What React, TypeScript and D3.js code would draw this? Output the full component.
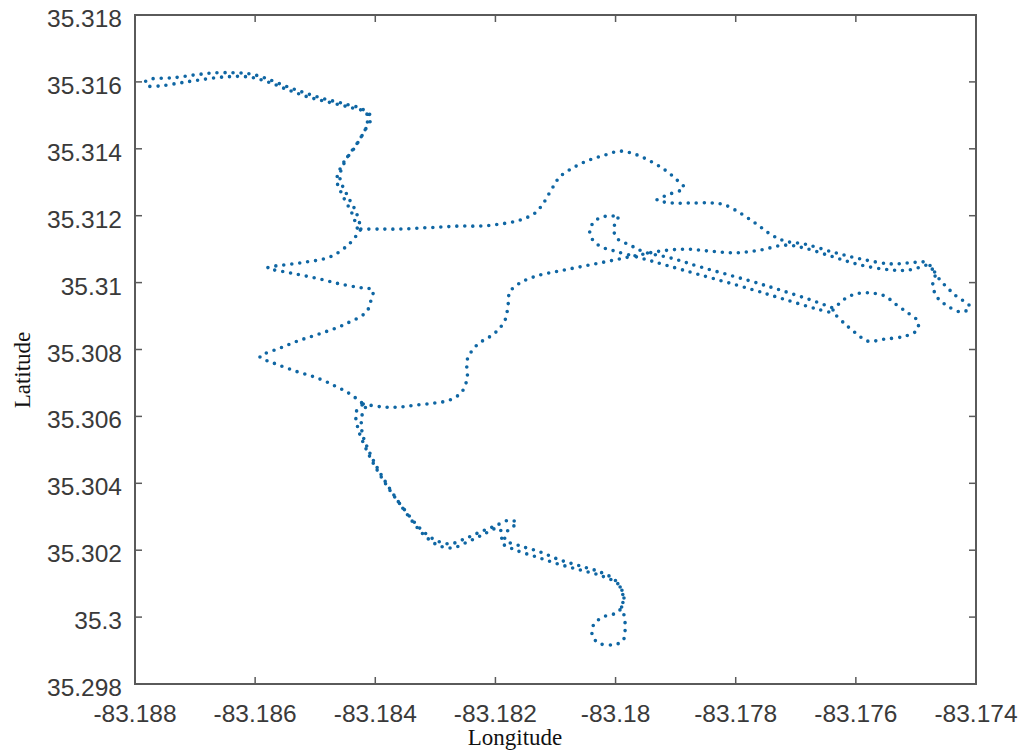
import React from "react";
import * as d3 from "d3";

// ---- axes ----
const xTicks = [-83.188, -83.186, -83.184, -83.182, -83.18, -83.178, -83.176, -83.174];
const xTickLabels = ["-83.188", "-83.186", "-83.184", "-83.182", "-83.18", "-83.178", "-83.176", "-83.174"];
const yTicks = [35.298, 35.3, 35.302, 35.304, 35.306, 35.308, 35.31, 35.312, 35.314, 35.316, 35.318];
const yTickLabels = ["35.298", "35.3", "35.302", "35.304", "35.306", "35.308", "35.31", "35.312", "35.314", "35.316", "35.318"];
const xLabel = "Longitude";
const yLabel = "Latitude";

// ---- GPS track segments: [longitude, latitude] ----
const topLoop: [number, number][] = [
  [-83.1843, 35.31163], [-83.18439, 35.31208], [-83.18454, 35.31259], [-83.18464, 35.31307],
  [-83.18455, 35.31352], [-83.18435, 35.31402], [-83.18417, 35.31456], [-83.18407, 35.31495],
  [-83.18422, 35.31519], [-83.1845, 35.31534], [-83.18484, 35.31549], [-83.18517, 35.31567],
  [-83.1855, 35.31588], [-83.18584, 35.31612], [-83.18609, 35.31624], [-83.18634, 35.31627],
  [-83.18667, 35.31627], [-83.187, 35.31621], [-83.18738, 35.31612], [-83.18772, 35.31609],
  [-83.18783, 35.316], [-83.18778, 35.31588], [-83.18758, 35.31588], [-83.18725, 35.31597],
  [-83.18692, 35.31606], [-83.1865, 35.31615], [-83.18612, 35.31615], [-83.18579, 35.316],
  [-83.18545, 35.31576], [-83.18512, 35.31555], [-83.18479, 35.3154], [-83.18445, 35.31525],
  [-83.18415, 35.31507], [-83.18414, 35.31471], [-83.18429, 35.3142], [-83.18449, 35.31367],
  [-83.18459, 35.31316], [-83.18447, 35.31262], [-83.18432, 35.31211], [-83.18424, 35.31163],
];

const zigzag: [number, number][] = [
  [-83.18425, 35.31157], [-83.18442, 35.31118], [-83.18475, 35.31077], [-83.18525, 35.31059],
  [-83.18579, 35.31044], [-83.18542, 35.31029], [-83.185, 35.31014], [-83.18459, 35.30996],
  [-83.18422, 35.30984], [-83.18404, 35.30978], [-83.18407, 35.30948], [-83.18415, 35.30912],
  [-83.1845, 35.30876], [-83.18489, 35.30849], [-83.18525, 35.30828], [-83.18559, 35.30804],
  [-83.18592, 35.30778], [-83.1857, 35.3076], [-83.18534, 35.30736], [-83.18497, 35.30715],
  [-83.18467, 35.30691], [-83.18442, 35.30667], [-83.1842, 35.30637],
];

const middleRoute: [number, number][] = [
  [-83.1842, 35.30637], [-83.18387, 35.30628], [-83.18359, 35.30628], [-83.18331, 35.30634],
  [-83.18301, 35.3064], [-83.18276, 35.30649], [-83.18256, 35.30673], [-83.18247, 35.30715],
  [-83.18247, 35.30769], [-83.18231, 35.30813], [-83.18201, 35.30849], [-83.18184, 35.30888],
  [-83.18179, 35.30933], [-83.18176, 35.30972], [-83.18159, 35.30999], [-83.18131, 35.3102],
  [-83.18093, 35.31035], [-83.18051, 35.3105], [-83.18009, 35.31065], [-83.17968, 35.3108],
  [-83.17926, 35.31094], [-83.17884, 35.311], [-83.17843, 35.31094], [-83.17801, 35.31089],
  [-83.1776, 35.31097], [-83.17718, 35.31112], [-83.17685, 35.31103], [-83.17638, 35.31077],
  [-83.17593, 35.31053], [-83.17543, 35.31038], [-83.1751, 35.31038], [-83.17482, 35.31053],
];

const upperRoute: [number, number][] = [
  [-83.18424, 35.3116], [-83.18392, 35.3116], [-83.18359, 35.3116], [-83.18326, 35.31163],
  [-83.18292, 35.31166], [-83.18259, 35.31169], [-83.18226, 35.31169], [-83.18192, 35.31175],
  [-83.18159, 35.31187], [-83.18134, 35.31208], [-83.18121, 35.31235], [-83.18111, 35.31265],
  [-83.18101, 35.31295], [-83.18093, 35.31316], [-83.18068, 35.31346], [-83.18043, 35.31367],
  [-83.18018, 35.31381], [-83.17993, 35.31393], [-83.17968, 35.31384], [-83.17943, 35.31364],
  [-83.17918, 35.31337], [-83.17898, 35.31307], [-83.17886, 35.31283], [-83.17909, 35.31265],
  [-83.17931, 35.31247], [-83.17906, 35.31238], [-83.17873, 35.31238], [-83.17839, 35.31238],
  [-83.17818, 35.31232], [-83.1779, 35.31205], [-83.17763, 35.31172], [-83.1774, 35.31142],
  [-83.17718, 35.31124], [-83.17685, 35.31115], [-83.17638, 35.31091], [-83.17593, 35.31071],
  [-83.17543, 35.31056], [-83.1751, 35.31059], [-83.17482, 35.31059], [-83.1746, 35.31008],
  [-83.17435, 35.30963], [-83.1741, 35.30927], [-83.17423, 35.30912], [-83.1745, 35.30933],
  [-83.17465, 35.30957], [-83.17472, 35.30993], [-83.17468, 35.31029], [-83.17482, 35.31053],
];

const hookOuter: [number, number][] = [
  [-83.18004, 35.31199], [-83.18023, 35.31196], [-83.18036, 35.31181], [-83.18043, 35.31157],
  [-83.18039, 35.3113], [-83.18026, 35.31109], [-83.18001, 35.31094], [-83.17959, 35.31074],
  [-83.17918, 35.31053], [-83.17859, 35.31023], [-83.17776, 35.30981], [-83.17721, 35.30951],
  [-83.17665, 35.30921], [-83.17638, 35.30909],
];

const hookInner: [number, number][] = [
  [-83.17996, 35.31193], [-83.18003, 35.31163], [-83.17998, 35.31133], [-83.17976, 35.31112],
  [-83.17951, 35.31091], [-83.17909, 35.31074], [-83.17859, 35.31047], [-83.17776, 35.31005],
  [-83.17721, 35.30975], [-83.17665, 35.30942], [-83.17638, 35.30924],
];

const diamondLoop: [number, number][] = [
  [-83.17638, 35.30918], [-83.17621, 35.30948], [-83.17601, 35.30966], [-83.17576, 35.30969],
  [-83.17552, 35.3096], [-83.17532, 35.30933], [-83.17513, 35.30909], [-83.17497, 35.30885],
  [-83.17498, 35.30858], [-83.17518, 35.3084], [-83.17552, 35.30831], [-83.1758, 35.30825],
  [-83.17598, 35.30846], [-83.17618, 35.30876], [-83.17635, 35.30906],
];

const southOut: [number, number][] = [
  [-83.18422, 35.30634], [-83.18432, 35.30613], [-83.18429, 35.30565], [-83.18417, 35.30509],
  [-83.18399, 35.30446], [-83.18376, 35.3038], [-83.18351, 35.3032], [-83.18326, 35.30266],
  [-83.18301, 35.30231], [-83.18276, 35.30219], [-83.18251, 35.30234], [-83.18226, 35.30254],
  [-83.18201, 35.30272], [-83.18176, 35.3029], [-83.18164, 35.30281], [-83.18179, 35.3026],
  [-83.18184, 35.30231], [-83.18159, 35.30213], [-83.18126, 35.30195], [-83.18093, 35.30171],
  [-83.18059, 35.30153], [-83.18026, 35.30135], [-83.18001, 35.30111], [-83.17989, 35.30075],
  [-83.17988, 35.30042], [-83.17996, 35.30015], [-83.18021, 35.3], [-83.18036, 35.29979],
  [-83.18039, 35.29947], [-83.18029, 35.29923], [-83.18006, 35.29917], [-83.17988, 35.29929],
  [-83.17984, 35.29967], [-83.17986, 35.30006], [-83.17991, 35.30036],
];

const southBack: [number, number][] = [
  [-83.17986, 35.30057], [-83.17994, 35.30096], [-83.18023, 35.30123], [-83.18059, 35.30141],
  [-83.18096, 35.30159], [-83.18132, 35.3018], [-83.18167, 35.30201], [-83.18189, 35.30222],
  [-83.18189, 35.30251], [-83.18196, 35.30266], [-83.18221, 35.30246], [-83.18246, 35.30225],
  [-83.18272, 35.30207], [-83.18297, 35.30216], [-83.18322, 35.30251], [-83.18346, 35.30305],
  [-83.18369, 35.30365], [-83.18392, 35.30431], [-83.1841, 35.30494], [-83.18422, 35.30553],
  [-83.18422, 35.30604], [-83.18414, 35.30634],
];

const segments = [topLoop, zigzag, middleRoute, upperRoute, hookOuter, hookInner, diamondLoop, southOut, southBack];

const W = 1027;
const H = 752;
const L = 135, R = 976, T = 15, B = 684;
const axisColor = "#5a5a5a";
const textColor = "#3a3a3a";
const dotColor = "#0f66a3";

export default function App() {
  const x = d3.scaleLinear().domain([-83.188, -83.174]).range([L, R]);
  const y = d3.scaleLinear().domain([35.298, 35.318]).range([B, T]);
  const line = d3
    .line<[number, number]>()
    .x((d) => x(d[0]))
    .y((d) => y(d[1]))
    .curve(d3.curveCatmullRom.alpha(0.5));
  const tickLen = 7;

  return (
    <svg
      width={W}
      height={H}
      viewBox={`0 0 ${W} ${H}`}
      style={{ position: "absolute", left: 0, top: 0, background: "#fff" }}
    >
      <rect x={0} y={0} width={W} height={H} fill="#fff" />
      {/* track */}
      <g fill="none" stroke={dotColor} strokeWidth={3.6} strokeLinecap="round" strokeDasharray="0 8">
        {segments.map((s, i) => (
          <path key={i} d={line(s) || ""} />
        ))}
      </g>
      {/* box */}
      <rect x={L} y={T} width={R - L} height={B - T} fill="none" stroke={axisColor} strokeWidth={2} />
      {/* x ticks */}
      {xTicks.map((t, i) => (
        <g key={"x" + i}>
          <line x1={x(t)} x2={x(t)} y1={B} y2={B - tickLen} stroke={axisColor} strokeWidth={1.5} />
          <line x1={x(t)} x2={x(t)} y1={T} y2={T + tickLen} stroke={axisColor} strokeWidth={1.5} />
          <text
            x={x(t)}
            y={B + 38}
            textAnchor="middle"
            fontFamily="'Liberation Sans', Arial, sans-serif"
            fontSize={24.5}
            fill={textColor}
          >
            {xTickLabels[i]}
          </text>
        </g>
      ))}
      {/* y ticks */}
      {yTicks.map((t, i) => (
        <g key={"y" + i}>
          <line x1={L} x2={L + tickLen} y1={y(t)} y2={y(t)} stroke={axisColor} strokeWidth={1.5} />
          <line x1={R} x2={R - tickLen} y1={y(t)} y2={y(t)} stroke={axisColor} strokeWidth={1.5} />
          <text
            x={L - 13}
            y={y(t) + 12}
            textAnchor="end"
            fontFamily="'Liberation Sans', Arial, sans-serif"
            fontSize={24.5}
            fill={textColor}
          >
            {yTickLabels[i]}
          </text>
        </g>
      ))}
      {/* axis labels */}
      <text
        x={515}
        y={745}
        textAnchor="middle"
        fontFamily="'Liberation Serif', 'Times New Roman', serif"
        fontSize={23}
        fill="#111"
      >
        {xLabel}
      </text>
      <text
        transform={`translate(30,370) rotate(-90)`}
        textAnchor="middle"
        fontFamily="'Liberation Serif', 'Times New Roman', serif"
        fontSize={23}
        fill="#111"
      >
        {yLabel}
      </text>
    </svg>
  );
}
